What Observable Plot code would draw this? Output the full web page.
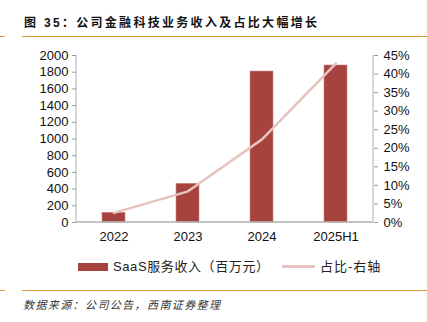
<!DOCTYPE html>
<html><head><meta charset="utf-8">
<script src="https://cdn.jsdelivr.net/npm/d3@7"></script>
<script src="https://cdn.jsdelivr.net/npm/@observablehq/plot@0.6"></script>
<style>
body{margin:0;background:#fff;}
#wrap{position:relative;width:427px;height:322px;overflow:hidden;font-family:"Liberation Sans","Noto Sans CJK SC",sans-serif;color:#111;background:#fff;}
.title{position:absolute;left:24px;top:15px;font-size:12px;font-weight:bold;letter-spacing:2.3px;white-space:nowrap;line-height:16px;}
.rule{position:absolute;height:1px;background:#DA9A3A;}
#chart{position:absolute;left:0;top:40px;}
.legend{position:absolute;top:259px;font-size:13px;white-space:nowrap;line-height:16px;color:#222;}
.src{position:absolute;left:23px;top:297px;font-size:11px;font-style:italic;letter-spacing:1.4px;color:#333;white-space:nowrap;line-height:16px;}
</style></head><body>
<div id="wrap">
  <div class="title">图 35：公司金融科技业务收入及占比大幅增长</div>
  <div class="rule" style="top:36px;left:0;width:5px"></div>
  <div class="rule" style="top:36px;left:22px;width:405px"></div>
  <div id="chart"></div>
  <div class="legend" style="left:78px"><span style="display:inline-block;width:30px;height:8px;background:#A6433F;vertical-align:middle;margin-right:5px;position:relative;top:-1px"></span><span style="letter-spacing:0.6px">SaaS服务收入（百万元）</span></div>
  <div class="legend" style="left:282px"><span style="display:inline-block;width:33px;height:2.5px;background:#E6C3BF;vertical-align:middle;margin-right:5px;position:relative;top:-1px"></span><span style="letter-spacing:1px">占比-右轴</span></div>
  <div class="rule" style="top:290px;left:0;width:5px"></div>
  <div class="rule" style="top:290px;left:22px;width:405px"></div>
  <div class="src">数据来源：公司公告，西南证券整理</div>
</div>
<script>
const categories = ["2022", "2023", "2024", "2025H1"];
const revenue = [116, 463, 1808, 1880];       // SaaS服务收入（百万元）
const share = [2.6, 8.4, 22.4, 42.9];          // 占比 (%), right axis
const leftTicks = [0, 200, 400, 600, 800, 1000, 1200, 1400, 1600, 1800, 2000];
const rightTicks = [0, 5, 10, 15, 20, 25, 30, 35, 40, 45];
const leftMax = 2000, rightMax = 45;

const table = categories.map((c, i) => ({cat: c, rev: revenue[i], pct: share[i]}));
const toLeft = p => p * leftMax / rightMax;

const axisLines = (index, scales, values, dims) => {
  const g = d3.create("svg:g");
  const x0 = dims.marginLeft, x1 = dims.width - dims.marginRight;
  const y0 = scales.y(0), y1 = scales.y(leftMax);
  g.append("line").attr("x1", x0).attr("x2", x0).attr("y1", y0).attr("y2", y1).attr("stroke", "#b0b0b0");
  g.append("line").attr("x1", x1).attr("x2", x1).attr("y1", y0).attr("y2", y1).attr("stroke", "#b0b0b0");
  g.append("line").attr("x1", x0).attr("x2", x1).attr("y1", y0).attr("y2", y0).attr("stroke", "#b0b0b0").attr("stroke-width", 1.5);
  return g.node();
};

const plot = Plot.plot({
  width: 427,
  height: 210,
  marginLeft: 76,
  marginRight: 54,
  marginTop: 15,
  marginBottom: 28,
  style: {fontFamily: "'Liberation Sans', 'Noto Sans CJK SC', sans-serif", fontSize: "13px", color: "#111", background: "transparent"},
  x: {domain: categories, paddingInner: 0.69, paddingOuter: 0.345, label: null},
  y: {domain: [0, leftMax], label: null},
  marks: [
    Plot.barY(table, {x: "cat", y: "rev", fill: "#A6433F", stroke: "#C98581", strokeWidth: 0.6}),
    Plot.lineY(table, {x: "cat", y: d => toLeft(d.pct), stroke: "#E6C3BF", strokeWidth: 2.5}),
    axisLines,
    Plot.axisY(leftTicks, {anchor: "left", tickSize: 4, tickPadding: 4, stroke: "#999", label: null, tickFormat: d => String(d)}),
    Plot.axisY(rightTicks.map(toLeft), {anchor: "right", tickSize: 4, tickPadding: 6, stroke: "#999", label: null,
      tickFormat: d => Math.round(d * rightMax / leftMax) + "%"}),
    Plot.axisX({tickSize: 0, tickPadding: 9, label: null})
  ]
});
document.getElementById("chart").appendChild(plot);
</script>
</body></html>
